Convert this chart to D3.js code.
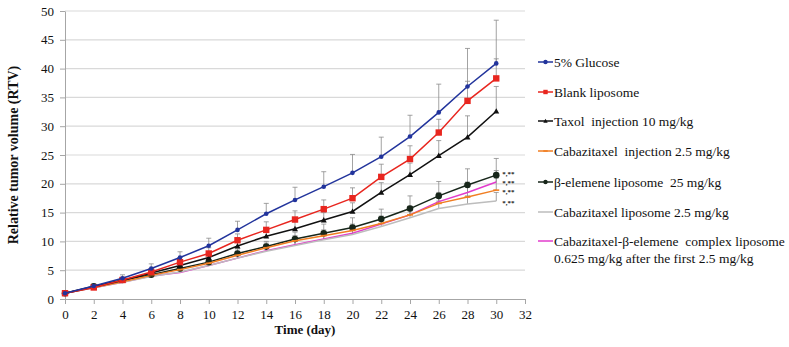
<!DOCTYPE html>
<html>
<head>
<meta charset="utf-8">
<script src="https://cdn.jsdelivr.net/npm/d3@7"></script>
<style>
  body { margin: 0; background: #fff; }
  text { font-family: "Liberation Serif", "Times New Roman", Times, "DejaVu Serif", serif; }
</style>
</head>
<body>
<script>
// chart size
const width = 789;
const height = 347;
const serif = "'Liberation Serif', 'Times New Roman', Times, 'DejaVu Serif', serif";

// days on the x axis
const days = [0, 2, 4, 6, 8, 10, 12, 14, 16, 18, 20, 22, 24, 26, 28, 30];
const xTicks = [0, 2, 4, 6, 8, 10, 12, 14, 16, 18, 20, 22, 24, 26, 28, 30, 32];
const yTicks = [0, 5, 10, 15, 20, 25, 30, 35, 40, 45, 50];

// series values (RTV) and upper error
const glucose    = [1, 2.25, 3.6, 5.3, 7.2, 9.25, 12.0, 14.8, 17.2, 19.5, 21.9, 24.7, 28.2, 32.4, 36.9, 40.9];
const glucoseErr = [0, 0.3, 0.6, 0.8, 1.0, 1.3, 1.5, 1.8, 2.2, 2.6, 3.2, 3.4, 3.7, 4.9, 6.6, 7.5];
const blank      = [1, 2.0, 3.3, 4.7, 6.4, 7.9, 10.2, 12.0, 13.8, 15.6, 17.5, 21.2, 24.3, 28.9, 34.4, 38.3];
const blankErr   = [0, 0.2, 0.4, 0.6, 0.8, 1.0, 1.1, 1.4, 1.5, 1.6, 1.8, 2.2, 2.3, 2.3, 3.4, 3.4];
const taxol      = [1, 2.1, 3.2, 4.5, 5.8, 7.2, 9.2, 10.9, 12.2, 13.7, 15.2, 18.5, 21.6, 24.9, 28.1, 32.6];
const taxolErr   = [0, 0.2, 0.3, 0.5, 0.6, 0.8, 0.9, 1.0, 1.2, 1.3, 1.5, 1.7, 2.0, 2.6, 3.7, 4.3];
const cabInj     = [1, 2.0, 3.0, 4.1, 5.1, 6.2, 7.6, 8.9, 10.1, 11.0, 11.9, 13.1, 14.6, 16.6, 17.7, 18.9];
const cabInjErr  = [0, 0.2, 0.3, 0.4, 0.5, 0.6, 0.7, 0.8, 0.9, 1.0, 1.1, 1.3, 1.5, 1.7, 1.9, 2.1];
const elemene    = [1, 2.2, 3.3, 4.2, 5.3, 6.4, 7.9, 9.1, 10.4, 11.4, 12.4, 13.9, 15.7, 17.9, 19.8, 21.5];
const elemeneErr = [0, 0.2, 0.3, 0.5, 0.6, 0.7, 0.8, 0.9, 1.2, 1.6, 1.7, 1.7, 2.2, 2.5, 2.8, 2.9];
const cabLipo    = [1, 1.95, 2.9, 3.9, 4.7, 5.8, 7.1, 8.3, 9.3, 10.3, 11.2, 12.6, 14.1, 15.7, 16.5, 17.0];
const cabLipoErr = [0, 0.1, 0.2, 0.3, 0.4, 0.5, 0.6, 0.7, 0.8, 0.9, 1.0, 1.1, 1.2, 1.3, 1.4, 1.5];
const complexLipo    = [1, 1.95, 2.9, 4.0, 4.6, 5.8, 7.1, 8.4, 9.4, 10.4, 11.4, 13.0, 14.6, 16.9, 18.5, 20.3];
const complexLipoErr = [0, 0.1, 0.2, 0.3, 0.4, 0.5, 0.6, 0.7, 0.8, 0.9, 1.0, 1.2, 1.4, 1.6, 1.8, 2.0];

// legend names
const names = ["5% Glucose", "Blank liposome", "Taxol  injection 10 mg/kg", "Cabazitaxel  injection 2.5 mg/kg",
    "β-elemene liposome  25 mg/kg", "Cabazitaxel liposome 2.5 mg/kg",
    "Cabazitaxel-β-elemene  complex liposome|0.625 mg/kg after the first 2.5 mg/kg"];

// significance marks near day 30
const starLabels = ["*,**", "*,**", "*,**", "*,**"];
const starValues = [21.8, 20.2, 18.6, 16.7];

const series = [
    { name: names[0], values: glucose, err: glucoseErr, color: "#22349c", marker: "circle", size: 2.3 },
    { name: names[1], values: blank, err: blankErr, color: "#e8261f", marker: "square", size: 3.2 },
    { name: names[2], values: taxol, err: taxolErr, color: "#111111", marker: "triangle", size: 3 },
    { name: names[3], values: cabInj, err: cabInjErr, color: "#f07e22", marker: "dash", size: 3 },
    { name: names[4], values: elemene, err: elemeneErr, color: "#17261a", marker: "circle", size: 3.3 },
    { name: names[5], values: cabLipo, err: cabLipoErr, color: "#bdbdbd", marker: "none", size: 0 },
    { name: names[6], values: complexLipo, err: complexLipoErr, color: "#e23ccc", marker: "none", size: 0 }
];

const svg = d3.select("body").append("svg")
    .attr("width", width)
    .attr("height", height);

// scales
const xscale = d3.scaleLinear().domain([0, 32]).range([65, 525]);
const yscale = d3.scaleLinear().domain([0, 50]).range([299, 11]);

// gridlines
svg.append("g")
    .selectAll("line")
    .data(yTicks.filter(d => d > 0))
    .join("line")
    .attr("x1", xscale(0))
    .attr("x2", xscale(32))
    .attr("y1", d => yscale(d))
    .attr("y2", d => yscale(d))
    .attr("stroke", "#d9d9d9")
    .attr("stroke-width", 1.2);

// axes
const x_axis = svg.append("g")
    .attr("transform", "translate(0," + yscale(0) + ")")
    .call(d3.axisBottom(xscale).tickValues(xTicks).tickSize(5).tickPadding(6).tickSizeOuter(0));

const y_axis = svg.append("g")
    .attr("transform", "translate(" + xscale(0) + ",0)")
    .call(d3.axisLeft(yscale).tickValues(yTicks).tickSize(5).tickPadding(6).tickSizeOuter(0));

[x_axis, y_axis].forEach(ax => {
    ax.attr("font-family", serif);
    ax.select(".domain").attr("stroke", "#a6a6a6");
    ax.selectAll(".tick line").attr("stroke", "#a6a6a6");
    ax.selectAll(".tick text")
        .attr("fill", "#111")
        .style("font-family", serif)
        .style("font-size", "13px");
});

// axis titles
svg.append("text")
    .attr("x", 305)
    .attr("y", 334)
    .attr("text-anchor", "middle")
    .attr("fill", "#111")
    .style("font-family", serif)
    .style("font-size", "13px")
    .style("font-weight", "bold")
    .text("Time (day)");

svg.append("text")
    .attr("transform", "translate(18,155) rotate(-90)")
    .attr("text-anchor", "middle")
    .attr("fill", "#111")
    .style("font-family", serif)
    .style("font-size", "14px")
    .style("font-weight", "bold")
    .text("Relative tumor volume (RTV)");

// error bars (upper only)
const errG = svg.append("g");
series.forEach(s => {
    const pts = days.map((d, i) => ({ d: d, v: s.values[i], e: s.err[i] })).filter(p => p.e > 0);
    errG.selectAll(null)
        .data(pts)
        .join("line")
        .attr("x1", p => xscale(p.d))
        .attr("x2", p => xscale(p.d))
        .attr("y1", p => yscale(p.v))
        .attr("y2", p => yscale(p.v + p.e))
        .attr("stroke", "#8c8c8c")
        .attr("stroke-width", 0.8);
    errG.selectAll(null)
        .data(pts)
        .join("line")
        .attr("x1", p => xscale(p.d) - 2.5)
        .attr("x2", p => xscale(p.d) + 2.5)
        .attr("y1", p => yscale(p.v + p.e))
        .attr("y2", p => yscale(p.v + p.e))
        .attr("stroke", "#8c8c8c")
        .attr("stroke-width", 0.8);
});

const line = d3.line()
    .x((v, i) => xscale(days[i]))
    .y(v => yscale(v));

function drawMarker(g, type, size, color, cx, cy) {
    if (type === "circle") {
        g.append("circle").attr("cx", cx).attr("cy", cy).attr("r", size).attr("fill", color);
    } else if (type === "square") {
        g.append("rect").attr("x", cx - size).attr("y", cy - size)
            .attr("width", size * 2).attr("height", size * 2).attr("fill", color);
    } else if (type === "triangle") {
        g.append("path")
            .attr("d", `M${cx},${cy - size}L${cx + size},${cy + size * 0.8}L${cx - size},${cy + size * 0.8}Z`)
            .attr("fill", color);
    } else if (type === "dash") {
        g.append("line").attr("x1", cx - size).attr("x2", cx + size)
            .attr("y1", cy).attr("y2", cy).attr("stroke", color).attr("stroke-width", 1.6);
    }
}

// draw series, bottom to top
const lineG = svg.append("g");
series.slice().reverse().forEach(s => {
    lineG.append("path")
        .datum(s.values)
        .attr("d", line)
        .attr("fill", "none")
        .attr("stroke", s.color)
        .attr("stroke-width", 1.5);
    const mg = lineG.append("g");
    s.values.forEach((v, i) => drawMarker(mg, s.marker, s.size, s.color, xscale(days[i]), yscale(v)));
});

// significance marks
svg.append("g")
    .selectAll("text")
    .data(starLabels)
    .join("text")
    .attr("x", xscale(30) + 6)
    .attr("y", (d, i) => yscale(starValues[i]) + 2.5)
    .attr("fill", "#222")
    .style("font-family", serif)
    .style("font-size", "7px")
    .style("font-weight", "bold")
    .text(d => d);

// legend
const legendY = [62, 92, 121, 151, 182, 212, 241];
const legend = svg.append("g");
series.forEach((s, i) => {
    const y = legendY[i];
    legend.append("line")
        .attr("x1", 538).attr("x2", 553)
        .attr("y1", y).attr("y2", y)
        .attr("stroke", s.color)
        .attr("stroke-width", 1.5);
    drawMarker(legend, s.marker, Math.min(s.size, 2.2), s.color, 545.5, y);
    const lines = s.name.split("|");
    lines.forEach((t, j) => {
        legend.append("text")
            .attr("x", 554)
            .attr("y", y + 4.5 + j * 17)
            .attr("fill", "#111")
            .style("font-family", serif)
            .style("font-size", "13.5px")
            .style("white-space", "pre")
            .text(t);
    });
});
</script>
</body>
</html>
